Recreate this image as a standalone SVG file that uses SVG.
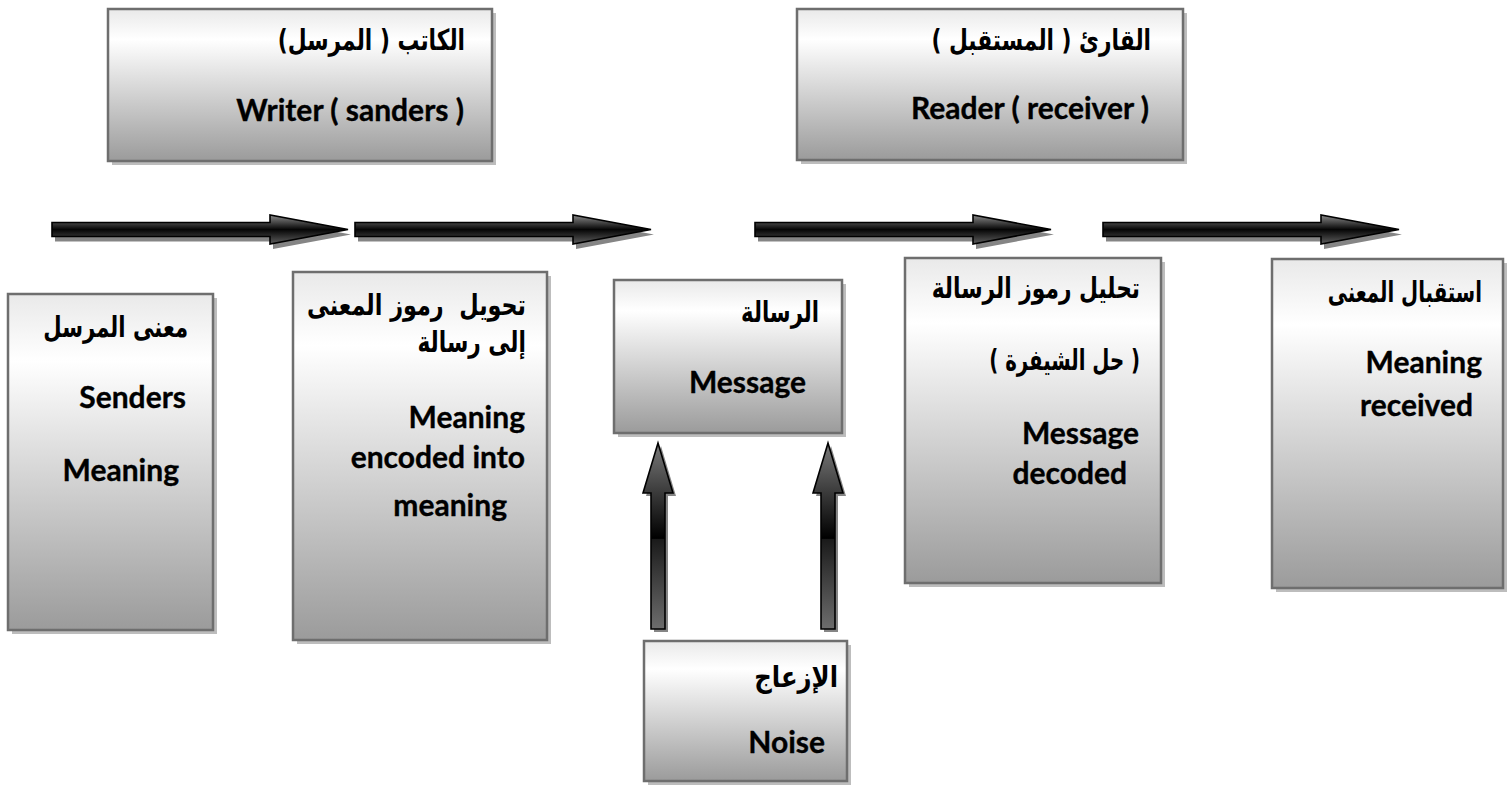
<svg xmlns="http://www.w3.org/2000/svg" width="1512" height="797" viewBox="0 0 1512 797">
  <defs>
    <linearGradient id="boxFill" x1="0" y1="0" x2="0" y2="1">
      <stop offset="0" stop-color="#e9e9e9"/>
      <stop offset="0.2" stop-color="#ffffff"/>
      <stop offset="1" stop-color="#9b9b9b"/>
    </linearGradient>
    <linearGradient id="arrowFillH" x1="0" y1="0" x2="0" y2="1">
      <stop offset="0" stop-color="#8c8c8c"/>
      <stop offset="0.5" stop-color="#050505"/>
      <stop offset="1" stop-color="#5e5e5e"/>
    </linearGradient>
    <linearGradient id="arrowFillV" gradientUnits="userSpaceOnUse" x1="0" y1="443" x2="0" y2="630">
      <stop offset="0" stop-color="#7a7a7a"/>
      <stop offset="0.51" stop-color="#000000"/>
      <stop offset="0.515" stop-color="#1a1a1a"/>
      <stop offset="1" stop-color="#6e6e6e"/>
    </linearGradient>
  </defs>
  <style>
    .box { fill: url(#boxFill); stroke: #6e6e6e; stroke-width: 2.5; }
    .shadow { fill: #bdbdbd; }
    .en { font-family: Lato, "Liberation Sans", sans-serif; font-weight: 700; font-size: 30px; fill: #000; stroke: #000; stroke-width: 0.35px; text-anchor: end; white-space: pre; }
    .ar { font-family: "DejaVu Sans", sans-serif; font-weight: 700; font-size: 29px; fill: #000; direction: rtl; text-anchor: start; white-space: pre; }
    .arrowH { fill: url(#arrowFillH); stroke: #000; stroke-width: 1.6; stroke-linejoin: miter; }
    .arrowV { fill: url(#arrowFillV); stroke: #000; stroke-width: 1.6; }
    .arrowShadow { fill: #858585; }
  </style>

  <!-- connectors: four flow arrows and two noise arrows -->
  <g id="connectors">
    <g class="arrowShadow" transform="translate(3,5)">
      <polygon points="52,222.5 270,222.5 270,215 348,229.5 270,244 270,236.5 52,236.5"/>
      <polygon points="355,222.5 573,222.5 573,215 651,229.5 573,244 573,236.5 355,236.5"/>
      <polygon points="755,222.5 973,222.5 973,215 1051,229.5 973,244 973,236.5 755,236.5"/>
      <polygon points="1103,222.5 1321,222.5 1321,215 1399,229.5 1321,244 1321,236.5 1103,236.5"/>
    </g>
    <polygon class="arrowH" points="52,222.5 270,222.5 270,215 348,229.5 270,244 270,236.5 52,236.5"/>
    <polygon class="arrowH" points="355,222.5 573,222.5 573,215 651,229.5 573,244 573,236.5 355,236.5"/>
    <polygon class="arrowH" points="755,222.5 973,222.5 973,215 1051,229.5 973,244 973,236.5 755,236.5"/>
    <polygon class="arrowH" points="1103,222.5 1321,222.5 1321,215 1399,229.5 1321,244 1321,236.5 1103,236.5"/>

    <g class="arrowShadow" transform="translate(3,3)">
      <polygon points="651,629 651,493 643,493 658,443 673,493 665,493 665,629"/>
      <polygon points="821,629 821,493 813,493 828,443 843,493 835,493 835,629"/>
    </g>
    <polygon class="arrowV" points="651,629 651,493 643,493 658,443 673,493 665,493 665,629"/>
    <polygon class="arrowV" points="821,629 821,493 813,493 828,443 843,493 835,493 835,629"/>
  </g>

  <!-- writer -->
  <g id="writer">
    <rect class="shadow" x="112" y="13" width="384" height="152"/>
    <rect class="box" x="108" y="9" width="384" height="152"/>
    <text class="ar" transform="translate(465,50) scale(0.75,1)">الكاتب ( المرسل)</text>
    <text class="en" x="464" y="121">Writer ( sanders )</text>
  </g>

  <!-- reader -->
  <g id="reader">
    <rect class="shadow" x="801" y="13" width="386" height="151"/>
    <rect class="box" x="797" y="9" width="386" height="151"/>
    <text class="ar" transform="translate(1151,50) scale(0.75,1)">القارئ ( المستقبل )</text>
    <text class="en" x="1149" y="119">Reader ( receiver )</text>
  </g>

  <!-- sender meaning -->
  <g id="senders-meaning">
    <rect class="shadow" x="12" y="298" width="205" height="336"/>
    <rect class="box" x="8" y="294" width="205" height="336"/>
    <text class="ar" transform="translate(188,337) scale(0.73,1)">معنى المرسل</text>
    <text class="en" x="186" y="408">Senders</text>
    <text class="en" x="179" y="481">Meaning</text>
  </g>

  <!-- encoding -->
  <g id="encoding">
    <rect class="shadow" x="297" y="276" width="254" height="368"/>
    <rect class="box" x="293" y="272" width="254" height="368"/>
    <text class="ar" transform="translate(526,315) scale(0.77,1)">تحويل  رموز المعنى</text>
    <text class="ar" transform="translate(526,352) scale(0.75,1)">إلى رسالة</text>
    <text class="en" x="525" y="428">Meaning</text>
    <text class="en" x="525" y="468">encoded into</text>
    <text class="en" x="507" y="516">meaning</text>
  </g>

  <!-- message -->
  <g id="message">
    <rect class="shadow" x="618" y="284" width="228" height="153"/>
    <rect class="box" x="614" y="280" width="228" height="153"/>
    <text class="ar" transform="translate(819,322) scale(0.73,1)">الرسالة</text>
    <text class="en" x="806" y="393">Message</text>
  </g>

  <!-- noise -->
  <g id="noise">
    <rect class="shadow" x="648" y="645" width="203" height="140"/>
    <rect class="box" x="644" y="641" width="203" height="140"/>
    <text class="ar" transform="translate(838,687) scale(0.84,1)">الإزعاج</text>
    <text class="en" x="825" y="753">Noise</text>
  </g>

  <!-- decoding -->
  <g id="decoding">
    <rect class="shadow" x="909" y="262" width="256" height="325"/>
    <rect class="box" x="905" y="258" width="256" height="325"/>
    <text class="ar" transform="translate(1140,298) scale(0.75,1)">تحليل رموز الرسالة</text>
    <text class="ar" transform="translate(1140,370) scale(0.68,1)">( حل الشيفرة )</text>
    <text class="en" x="1139" y="444">Message</text>
    <text class="en" x="1127" y="484">decoded</text>
  </g>

  <!-- meaning received -->
  <g id="meaning-received">
    <rect class="shadow" x="1276" y="263" width="231" height="329"/>
    <rect class="box" x="1272" y="259" width="231" height="329"/>
    <text class="ar" transform="translate(1482,302) scale(0.68,1)">استقبال المعنى</text>
    <text class="en" x="1482" y="373">Meaning</text>
    <text class="en" x="1473" y="416">received</text>
  </g>
</svg>
